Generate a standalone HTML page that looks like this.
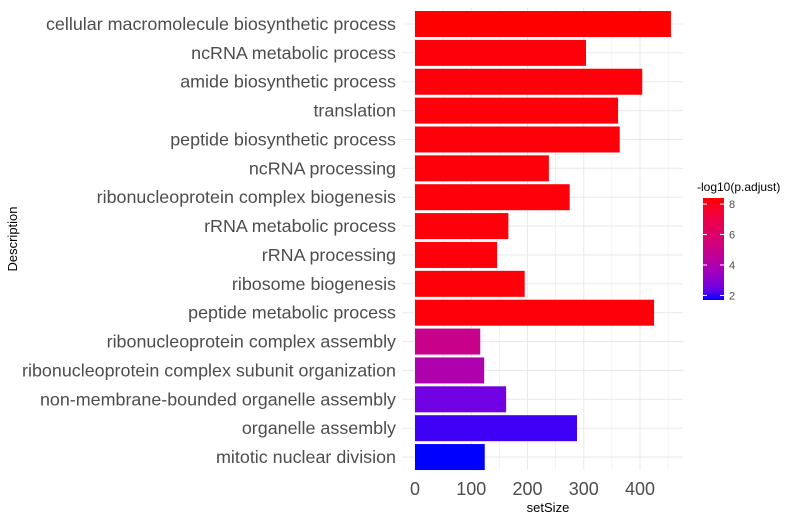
<!DOCTYPE html>
<html><head><meta charset="utf-8"><style>
body{margin:0;background:#fff;font-family:"Liberation Sans",Arial,sans-serif}
</style></head><body>
<svg id="chart" width="805" height="520" xmlns="http://www.w3.org/2000/svg"></svg>
<script>
const categories=["cellular macromolecule biosynthetic process","ncRNA metabolic process","amide biosynthetic process","translation","peptide biosynthetic process","ncRNA processing","ribonucleoprotein complex biogenesis","rRNA metabolic process","rRNA processing","ribosome biogenesis","peptide metabolic process","ribonucleoprotein complex assembly","ribonucleoprotein complex subunit organization","non-membrane-bounded organelle assembly","organelle assembly","mitotic nuclear division"];
const setSize=[455,304,404,361,364,238,275,166,146,195,425,116,123,162,288,124];
const logP=[8.4,8.3,8.3,8.3,8.3,8.3,8.3,8.3,8.3,8.3,8.3,5.0,4.0,2.5,1.95,1.7];
const xTicks=[0,100,200,300,400];
const legendTicks=[2,4,6,8];
const NS="http://www.w3.org/2000/svg";
const svg=document.getElementById('chart');
function el(t,a,txt){const e=document.createElementNS(NS,t);for(const k in a)e.setAttribute(k,a[k]);if(txt!==undefined)e.textContent=txt;svg.appendChild(e);return e;}
const x=v=>415+v*0.5625;
const rowY=i=>24+i*28.87;
const cMin=1.7,cMax=8.4;
function toLin(c){c/=255;return c<=0.04045?c/12.92:Math.pow((c+0.055)/1.055,2.4);}
function fromLin(c){c=c<=0.0031308?12.92*c:1.055*Math.pow(c,1/2.4)-0.055;return Math.round(Math.max(0,Math.min(1,c))*255);}
function rgb2lab(r,g,b){r=toLin(r);g=toLin(g);b=toLin(b);let X=(0.4124*r+0.3576*g+0.1805*b)/0.95047,Y=0.2126*r+0.7152*g+0.0722*b,Z=(0.0193*r+0.1192*g+0.9505*b)/1.08883;const f=t=>t>0.008856?Math.cbrt(t):7.787*t+16/116;X=f(X);Y=f(Y);Z=f(Z);return[116*Y-16,500*(X-Y),200*(Y-Z)];}
function lab2rgb(L,a,b){let Y=(L+16)/116,X=a/500+Y,Z=Y-b/200;const f=t=>t*t*t>0.008856?t*t*t:(t-16/116)/7.787;X=f(X)*0.95047;Y=f(Y);Z=f(Z)*1.08883;const r=3.2406*X-1.5372*Y-0.4986*Z,g=-0.9689*X+1.8758*Y+0.0415*Z,bb=0.0557*X-0.2040*Y+1.0570*Z;return`rgb(${fromLin(r)},${fromLin(g)},${fromLin(bb)})`;}
const labR=rgb2lab(255,0,0),labB=rgb2lab(0,0,255);
function col(v){let t=(v-cMin)/(cMax-cMin);t=Math.max(0,Math.min(1,t));return lab2rgb(labB[0]+(labR[0]-labB[0])*t,labB[1]+(labR[1]-labB[1])*t,labB[2]+(labR[2]-labB[2])*t);}
for(let v=0;v<=450;v+=50){const g=el('line',{x1:x(v),x2:x(v),y1:8,y2:470,stroke:'#ebebeb','stroke-width':v%100===0?1.1:0.6});}
categories.forEach((c,i)=>{const g=el('line',{x1:402,x2:683,y1:rowY(i),y2:rowY(i),stroke:'#ebebeb','stroke-width':1.1});});
categories.forEach((c,i)=>{
 const r=el('rect',{x:x(0),y:rowY(i)-13,width:x(setSize[i])-x(0),height:26,fill:col(logP[i])});
 
 
 const t=el('text',{x:396,y:rowY(i)+6,'text-anchor':'end','font-size':17.9,fill:'#4d4d4d'},c);
 
 
});
xTicks.forEach(v=>{const t=el('text',{x:x(v),y:495,'text-anchor':'middle','font-size':18,fill:'#4d4d4d'},v);});
const xt=el('text',{x:548,y:512,'text-anchor':'middle','font-size':13,fill:'#000'},'setSize');
const yt=el('text',{x:17,y:239,'text-anchor':'middle','font-size':13,fill:'#000',transform:'rotate(-90 17 239)'},'Description');
const lt=el('text',{x:697,y:191,'font-size':12,fill:'#000'},'-log10(p.adjust)');
const defs=el('defs',{});const lg=document.createElementNS(NS,'linearGradient');lg.setAttribute('id','lg');lg.setAttribute('x1','0');lg.setAttribute('y1','1');lg.setAttribute('x2','0');lg.setAttribute('y2','0');defs.appendChild(lg);
for(let k=0;k<=10;k++){const s=document.createElementNS(NS,'stop');s.setAttribute('offset',k/10);s.setAttribute('stop-color',col(cMin+(cMax-cMin)*k/10));lg.appendChild(s);}
const ly=v=>300-(v-cMin)*(102/(cMax-cMin));
const lb=el('rect',{x:703,y:198,width:21,height:102,fill:'url(#lg)'});
legendTicks.forEach(v=>{
 el('line',{x1:703,x2:707,y1:ly(v),y2:ly(v),stroke:'#fff','stroke-width':1});
 el('line',{x1:720,x2:724,y1:ly(v),y2:ly(v),stroke:'#fff','stroke-width':1});
 const t=el('text',{x:729,y:ly(v)+4,'font-size':11,fill:'#4d4d4d'},v);
});
</script>
</body></html>
